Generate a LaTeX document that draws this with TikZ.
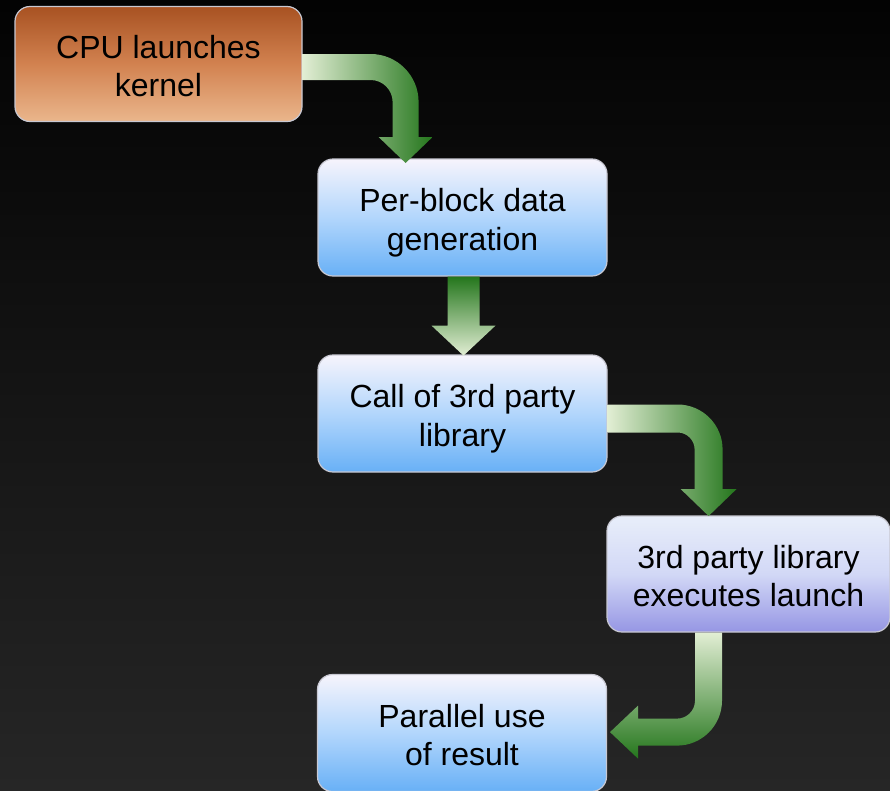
\documentclass[tikz,border=0pt]{standalone}
\usepackage{fontspec}
\setmainfont{Liberation Sans}
\usetikzlibrary{calc}
\definecolor{bgtop}{RGB}{3,3,3}
\definecolor{bgbot}{RGB}{38,38,38}
\definecolor{glight}{RGB}{226,238,212}
\definecolor{gdark}{RGB}{36,118,28}
\definecolor{btop}{RGB}{246,244,252}
\definecolor{bmid}{RGB}{178,214,252}
\definecolor{bbot}{RGB}{104,176,246}
\definecolor{otop}{RGB}{168,82,34}
\definecolor{omid}{RGB}{210,130,80}
\definecolor{obot}{RGB}{234,182,140}
\definecolor{ltop}{RGB}{232,238,250}
\definecolor{lmid}{RGB}{210,216,246}
\definecolor{lbot}{RGB}{150,150,228}
\newcommand\bxtext[2]{\raisebox{-5.6pt}[\height][\depth]{\begin{tabular}{@{}c@{}}#1\\#2\end{tabular}}}
\tikzset{
  box/.style={rounded corners=15pt, draw={rgb,255:red,200;green,200;blue,210}, line width=1.2pt,
    font=\fontsize{32}{38.5}\selectfont, text=black, inner sep=0pt},
  bluebox/.style={box, top color=btop, bottom color=bbot, middle color=bmid,
    minimum width=289pt, minimum height=117pt},
  orangebox/.style={box, top color=otop, bottom color=obot, middle color=omid,
    minimum width=287pt, minimum height=115pt},
  lavbox/.style={box, top color=ltop, bottom color=lbot, middle color=lmid,
    minimum width=283pt, minimum height=116pt},
  harrow/.style={left color=glight, right color=gdark},
  varrowdown/.style={top color=glight, bottom color=gdark},
  varrowup/.style={top color=gdark, bottom color=glight}
}
\begin{document}
\begin{tikzpicture}[x=1pt,y=-1pt]
\shade[top color=bgtop, bottom color=bgbot] (0,0) rectangle (890,790);
\useasboundingbox (0,0) rectangle (890,790);

\node[orangebox] (cpu) at (158.5,64) {\bxtext{CPU launches}{kernel}};
\node[bluebox] (gen) at (462.5,217.5) {\bxtext{Per-block data}{generation}};
\node[bluebox] (call) at (462.5,413.5) {\bxtext{Call of 3rd party}{library}};
\node[lavbox] (lib) at (748.5,574) {\bxtext{3rd party library}{executes launch}};
\node[bluebox] (use) at (462,733) {\bxtext{Parallel use}{of result}};

% arrow cpu -> gen
\shade[harrow] (cpu.east) ++(0,-10) --++(68,0)
  arc[start angle=-90,end angle=0,radius=48] --++(0,35) --++(14,0)
  --++(-27,26) --++(-27,-26) --++(14,0) --++(0,-35)
  arc[start angle=0,end angle=-90,radius=22] --++(-68,0) -- cycle;

% arrow gen -> call
\shade[varrowup] (gen.south) ++(-15,0) --++(0,49) --++(-16,0)
  --++(32,30) --++(32,-30) --++(-16,0) --++(0,-49) -- cycle;

% arrow call -> lib
\shade[harrow] (call.east) ++(0,-9) --++(70,0)
  arc[start angle=-90,end angle=0,radius=45] --++(0,39.5) --++(14,0)
  --++(-28,27) --++(-28,-27) --++(14,0) --++(0,-39.5)
  arc[start angle=0,end angle=-90,radius=17] --++(-70,0) -- cycle;

% arrow lib -> use
\shade[varrowdown] (lib.south) ++(-53.5,0) --++(27,0) --++(0,68)
  arc[start angle=0,end angle=90,radius=45] --++(-39,0) --++(0,13)
  --++(-28,-26.5) --++(28,-26.5) --++(0,13) --++(39,0)
  arc[start angle=90,end angle=0,radius=18] -- cycle;
\end{tikzpicture}
\end{document}
